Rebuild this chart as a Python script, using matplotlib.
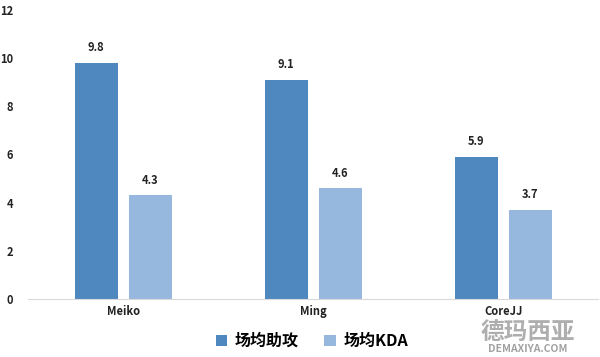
import matplotlib
matplotlib.use("Agg")
import matplotlib.pyplot as plt
import numpy as np

plt.rcParams['font.family'] = ['Noto Sans CJK SC', 'DejaVu Sans']

categories = ["Meiko", "Ming", "CoreJJ"]
series_names = ["场均助攻", "场均KDA"]
assists = [9.8, 9.1, 5.9]
kda = [4.3, 4.6, 3.7]
yticks = [0, 2, 4, 6, 8, 10, 12]

colors = ["#4F88BE", "#96B8DF"]

fig = plt.figure(figsize=(6, 3.57), dpi=100)
ax = fig.add_axes([0.047, 0.1625, 0.95, 0.81])

x = np.arange(len(categories))
w = 0.226
off = 0.143
b1 = ax.bar(x - off, assists, w, color=colors[0], label=series_names[0])
b2 = ax.bar(x + off, kda, w, color=colors[1], label=series_names[1])

for bars, vals in ((b1, assists), (b2, kda)):
    for r, v in zip(bars, vals):
        ax.text(r.get_x() + r.get_width() / 2, v + 0.35, f"{v:.1f}",
                ha="center", va="bottom", fontsize=8, fontweight="bold", color="#222222")

ax.set_xlim(-0.5, 2.5)
ax.set_ylim(0, 12)
ax.set_yticks(yticks)
ax.set_yticklabels([str(t) for t in yticks], fontsize=8, fontweight="bold", color="#222222")
ax.set_xticks(x)
ax.set_xticklabels(categories, fontsize=8, fontweight="bold", color="#222222")
ax.tick_params(length=0, pad=4)
ax.tick_params(axis="y", pad=11)
for s in ["top", "right", "left"]:
    ax.spines[s].set_visible(False)
ax.spines["bottom"].set_color("#D9D9D9")

fig.legend(loc="center", bbox_to_anchor=(0.52, 0.045), ncol=2, frameon=False,
           handlelength=0.7, handleheight=0.7, handletextpad=0.5,
           columnspacing=1.6, prop={'weight': 'bold', 'size': 11.5})

fig.text(0.88, 0.07, "德玛西亚", fontsize=17, fontweight="heavy", color="#9A9A9A",
         ha="center", va="center", alpha=0.8)
fig.text(0.88, 0.022, "DEMAXIYA.COM", fontsize=7.5, fontweight="bold", color="#8A8A8A",
         ha="center", va="center", alpha=0.8)

fig.savefig("out.png", dpi=100)
